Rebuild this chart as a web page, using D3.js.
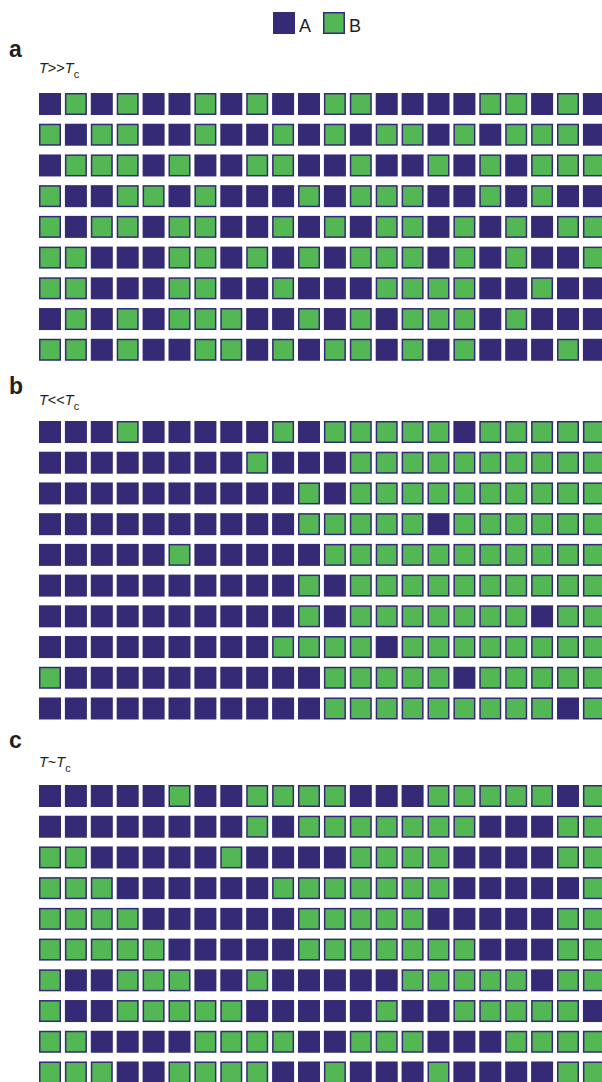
<!DOCTYPE html>
<html>
<head>
<meta charset="utf-8">
<script src="https://cdn.jsdelivr.net/npm/d3@7"></script>
<style>
	body { margin: 0; background: #fff; }
	svg { display: block; font-family: "Liberation Sans", Arial, sans-serif; }
</style>
</head>
<body>
<svg id="chart" width="602" height="1082"></svg>
<script>
// lattice states, one string per row, A / B per site
const panelA = [
	"ABABAABABAABBAAAABBABA",
	"BABBAABAABABABBABABBBA",
	"ABBBABAABBAABAABABABBB",
	"BAABBABAAABABBBAABABAA",
	"BABBABBAABABABBABABABB",
	"BBAAABBABABABBBABABAAB",
	"BBAAABBAABAAABBBBAABAA",
	"ABABABBBAABABABBBABAAA",
	"BBABAABBABABBABABAAABA"
];

const panelB = [
	"AAABAAAAABABBBBBABBBBB",
	"AAAAAAAABAAABBBBBBBBBB",
	"AAAAAAAAAABABBBBBBBBBB",
	"AAAAAAAAAABBBBBABBBBBB",
	"AAAAABAAAAABBBBBBBBBBB",
	"AAAAAAAAAABABBBBBBBBBB",
	"AAAAAAAAAABABBBBBBBABB",
	"AAAAAAAAABBBBABBBBBBBB",
	"BAAAAAAAAAABBBBBABBBBB",
	"AAAAAAAAAAABBBBBBBBBAB"
];

const panelC = [
	"AAAAABAABBBBAAABBBBBAB",
	"AAAAAAAABABBBBBBBAAABB",
	"BBAAAAABAAAABBBBAAAABB",
	"BBBAAAAAABBBBBBBAAAAAB",
	"BBBBAAAAAABBBBBAAAAABB",
	"BBBBBAAAAABBBBBBBAAABB",
	"BAABBBAABAAAAABBBBBABB",
	"BAABBBBBAAAAABAABBBBBA",
	"BBAAAABBBBAABBBAAABBBB",
	"BBBAABBBBAABAAABAAAABB"
];

const letters = ["a", "b", "c"];
const relations = [">>", "<<", "~"];
const species = ["A", "B"];

const colors = { A: "#342a76", B: "#53b853" };
const cell = 22;
const colStep = 25.9;
const rowStep = 30.72;
const gridLeft = 39;

const panels = [
	{ rows: panelA, top: 93, letterY: 57, labelY: 73 },
	{ rows: panelB, top: 421, letterY: 394, labelY: 405 },
	{ rows: panelC, top: 785, letterY: 748, labelY: 767 }
];

const svg = d3.select("#chart");

const nCols = panelA[0].length;
const x = d3.scaleBand()
	.domain(d3.range(nCols))
	.range([gridLeft, gridLeft + (nCols - 1) * colStep + cell])
	.paddingInner((colStep - cell) / colStep);

const drawCell = (sel, w) => {
	sel.attr("fill", d => colors[d.s])
		.attr("stroke", d => d.s === "B" ? colors.A : "none")
		.attr("stroke-width", 1.5);
	sel.attr("x", d => d.x + (d.s === "B" ? 0.75 : 0))
		.attr("y", d => d.y + (d.s === "B" ? 0.75 : 0))
		.attr("width", d => d.s === "B" ? w - 1.5 : w)
		.attr("height", d => d.s === "B" ? w - 1.5 : w);
};

// legend
const legend = svg.append("g").attr("class", "legend");
const lx = d3.scalePoint().domain(species).range([273, 323]);
const legendItems = legend.selectAll("g")
	.data(species)
	.join("g");
legendItems.append("rect")
	.datum(d => ({ s: d, x: lx(d), y: 12 }))
	.call(drawCell, cell);
legendItems.append("text")
	.attr("x", d => lx(d) + cell + 4)
	.attr("y", 32)
	.attr("font-size", 18)
	.attr("fill", "#231f20")
	.text(d => d);

panels.forEach((p, i) => {
	const g = svg.append("g").attr("class", "panel");

	g.append("text")
		.attr("x", 9)
		.attr("y", p.letterY)
		.attr("font-size", 23)
		.attr("font-weight", "bold")
		.attr("fill", "#231f20")
		.text(letters[i]);

	const label = g.append("text")
		.attr("x", gridLeft)
		.attr("y", p.labelY)
		.attr("font-size", 14.5)
		.attr("fill", "#231f20");
	label.append("tspan").attr("font-style", "italic").text("T");
	label.append("tspan").text(relations[i]);
	label.append("tspan").attr("font-style", "italic").text("T");
	label.append("tspan").attr("font-size", 11).attr("dy", 5).text("c");

	const y = d3.scaleBand()
		.domain(d3.range(p.rows.length))
		.range([p.top, p.top + (p.rows.length - 1) * rowStep + cell])
		.paddingInner((rowStep - cell) / rowStep);

	const sites = p.rows.flatMap((row, r) =>
		row.split("").map((s, c) => ({ s, x: x(c), y: y(r) })));

	g.selectAll("rect.site")
		.data(sites)
		.join("rect")
		.attr("class", "site")
		.call(drawCell, x.bandwidth());
});
</script>
</body>
</html>
